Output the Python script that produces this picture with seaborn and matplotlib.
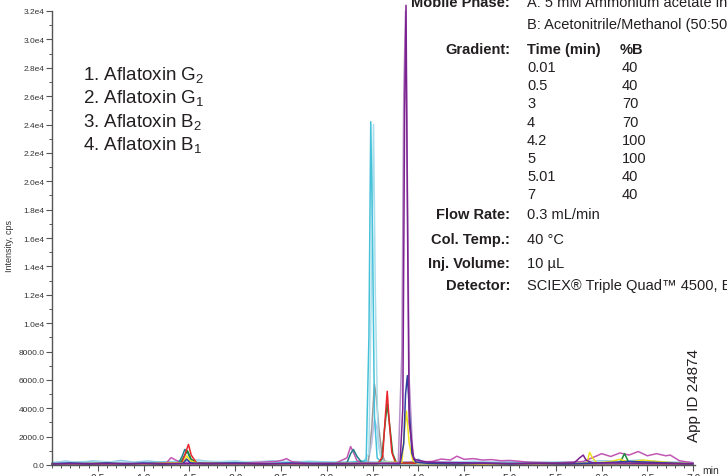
import numpy as np
import pandas as pd
import matplotlib
matplotlib.use("Agg")
import matplotlib.pyplot as plt
from matplotlib.ticker import MultipleLocator
import seaborn as sns

# ---------------- data ----------------
lightblue_t = [0.0, 0.15, 0.3, 0.45, 0.6, 0.75, 0.9, 1.05, 1.2, 1.4, 1.6, 1.75, 2.0, 2.2, 2.4, 2.6, 2.8, 3.1, 3.4, 3.6, 3.8,
               3.95, 4.0, 4.05, 4.3, 4.6, 4.8, 5.1, 5.3, 5.6, 5.8, 6.0, 6.2, 6.4, 6.6, 6.8, 7.0]
lightblue_y = [150, 280, 160, 300, 180, 320, 200, 290, 170, 260, 350, 200, 280, 170, 300, 190, 260, 200, 220, 200, 180,
               250, 420, 220, 180, 260, 200, 240, 160, 230, 220, 300, 260, 340, 250, 200, 180]

lavender_t = [0.0, 1.0, 2.0, 3.0, 3.45, 3.49, 3.52, 3.55, 3.58, 3.62, 3.8, 5.0, 6.0, 7.0]
lavender_y = [100, 120, 110, 130, 150, 1500, 3200, 2500, 900, 200, 120, 110, 150, 100]

grey_t = [0.0, 1.0, 2.0, 3.0, 3.45, 3.49, 3.52, 3.54, 3.57, 3.6, 3.63, 3.7, 4.5, 5.5, 7.0]
grey_y = [80, 90, 80, 90, 120, 2500, 5700, 4800, 2500, 900, 300, 120, 90, 80, 90]

lightcyan_t = [0.0, 0.5, 1.0, 1.5, 2.0, 2.5, 3.0, 3.4, 3.46, 3.49, 3.51, 3.53, 3.56, 3.6, 4.0, 5.0, 6.0, 7.0]
lightcyan_y = [180, 260, 150, 300, 220, 270, 200, 250, 800, 14000, 24000, 12000, 1500, 250, 200, 180, 230, 160]

cyan_t = [0.0, 0.4, 0.8, 1.2, 1.6, 2.0, 2.4, 2.8, 3.2, 3.43, 3.46, 3.48, 3.5, 3.52, 3.55, 3.6, 4.0, 4.5, 5.0, 5.5, 6.0, 6.5, 7.0]
cyan_y = [120, 180, 100, 200, 130, 170, 120, 190, 140, 300, 9000, 24200, 16000, 3500, 500, 180, 150, 120, 130, 110, 150, 120, 100]

magenta_t = [0.0, 0.5, 1.0, 1.25, 1.3, 1.35, 1.4, 1.6, 2.0, 2.45, 2.52, 2.56, 2.62, 2.8, 3.1, 3.22, 3.26, 3.29, 3.33, 3.4, 3.7,
             4.15, 4.25, 4.35, 4.42, 4.5, 4.6, 4.7, 4.8, 4.9, 5.0, 5.2, 5.5, 5.8, 5.95, 6.0, 6.1, 6.2, 6.3, 6.4, 6.5, 6.6, 6.7, 6.75, 6.85, 7.0]
magenta_y = [100, 120, 100, 150, 520, 350, 200, 120, 110, 250, 350, 450, 230, 130, 140, 500, 1300, 900, 300, 150, 150,
             250, 420, 350, 620, 400, 450, 350, 380, 300, 320, 200, 150, 250, 650, 800, 600, 850, 700, 950, 650, 800, 650, 700, 300, 150]

teal_t = [0.0, 1.0, 1.38, 1.42, 1.45, 1.48, 1.52, 1.58, 2.0, 3.0, 3.22, 3.26, 3.29, 3.33, 3.38, 3.45, 4.0, 5.0, 6.0, 7.0]
teal_y = [90, 100, 120, 600, 1100, 900, 300, 120, 90, 100, 150, 800, 1100, 600, 200, 110, 100, 90, 100, 90]

green_t = [0.0, 1.0, 1.4, 1.45, 1.48, 1.52, 1.6, 2.5, 3.55, 3.6, 3.63, 3.66, 3.69, 3.72, 3.76, 4.5, 5.5, 6.2, 6.25, 6.3, 7.0]
green_y = [80, 90, 120, 700, 1000, 400, 100, 90, 100, 400, 2500, 4300, 2600, 800, 150, 90, 100, 120, 800, 150, 90]

red_t = [0.0, 1.0, 1.42, 1.46, 1.49, 1.52, 1.58, 2.5, 3.56, 3.61, 3.64, 3.66, 3.68, 3.71, 3.75, 4.5, 6.0, 7.0]
red_y = [70, 80, 150, 900, 1450, 700, 120, 80, 100, 600, 3500, 5200, 3200, 900, 150, 80, 100, 80]

yellow_t = [0.0, 0.5, 1.0, 1.43, 1.47, 1.51, 1.6, 2.0, 3.0, 3.82, 3.85, 3.87, 3.9, 3.94, 4.0, 5.0, 5.84, 5.87, 5.9, 5.95,
            6.1, 6.2, 6.3, 6.45, 6.6, 6.8, 7.0]
yellow_y = [60, 110, 70, 150, 650, 300, 90, 60, 80, 200, 2500, 3800, 1500, 300, 100, 70, 150, 900, 500, 150,
            250, 400, 200, 350, 250, 150, 80]

lightpurple_t = [0.0, 1.0, 2.0, 3.0, 3.78, 3.82, 3.84, 3.86, 3.88, 3.9, 3.94, 4.0, 5.0, 6.0, 7.0]
lightpurple_y = [90, 100, 90, 100, 150, 8000, 26000, 32000, 20000, 6000, 600, 150, 100, 120, 100]

darkblue_t = [0.0, 0.2, 0.4, 0.6, 0.8, 1.0, 1.2, 1.43, 1.47, 1.51, 1.7, 2.0, 2.3, 2.6, 3.0, 3.4, 3.8, 3.84, 3.86, 3.88, 3.9,
              3.93, 3.97, 4.1, 4.4, 4.7, 5.0, 5.3, 5.6, 6.0, 6.3, 6.6, 7.0]
darkblue_y = [60, 140, 70, 150, 60, 130, 70, 120, 420, 150, 90, 140, 70, 130, 60, 110, 80, 1500, 5000, 6300, 4000,
              800, 200, 120, 70, 130, 70, 120, 80, 150, 250, 180, 70]

purple_t = [0.0, 1.0, 2.0, 3.0, 3.8, 3.83, 3.85, 3.865, 3.88, 3.9, 3.95, 4.1, 5.0, 5.7, 5.76, 5.8, 5.83, 5.9, 6.5, 7.0]
purple_y = [80, 90, 80, 90, 120, 4000, 25000, 32400, 18000, 3000, 400, 200, 100, 150, 500, 700, 350, 150, 120, 90]

# legend / annotation text
compounds = ["1. Aflatoxin G$_2$", "2. Aflatoxin G$_1$", "3. Aflatoxin B$_2$", "4. Aflatoxin B$_1$"]
grad_time = ["0.01", "0.5", "3", "4", "4.2", "5", "5.01", "7"]
grad_b = ["40", "40", "70", "70", "100", "100", "40", "40"]
x_ticks = [0.5, 1.0, 1.5, 2.0, 2.5, 3.0, 3.5, 4.0, 4.5, 5.0, 5.5, 6.0, 6.5, 7.0]
y_ticks = [0, 2000, 4000, 6000, 8000, 10000, 12000, 14000, 16000, 18000, 20000, 22000, 24000, 26000, 28000, 30000, 32000]

traces = {
    "lightblue": (lightblue_t, lightblue_y, "#93C6EA"),
    "lavender": (lavender_t, lavender_y, "#B9C0EC"),
    "grey": (grey_t, grey_y, "#9B9B9B"),
    "lightcyan": (lightcyan_t, lightcyan_y, "#A9DFEC"),
    "cyan": (cyan_t, cyan_y, "#45C1D9"),
    "magenta": (magenta_t, magenta_y, "#C257B4"),
    "teal": (teal_t, teal_y, "#1F7E88"),
    "green": (green_t, green_y, "#1A8A3A"),
    "red": (red_t, red_y, "#E8262B"),
    "yellow": (yellow_t, yellow_y, "#EDE21F"),
    "lightpurple": (lightpurple_t, lightpurple_y, "#B88FC8"),
    "darkblue": (darkblue_t, darkblue_y, "#2F3F9F"),
    "purple": (purple_t, purple_y, "#7C2190"),
}

rows = []
for name, (t, y, c) in traces.items():
    for ti, yi in zip(t, y):
        rows.append({"trace": name, "t": ti, "y": yi})
df = pd.DataFrame(rows)
palette = {k: v[2] for k, v in traces.items()}
order = list(traces.keys())

# ---------------- plot ----------------
sns.set_style("ticks")
plt.rcParams["font.family"] = ["Liberation Sans", "DejaVu Sans"]
plt.rcParams["mathtext.fontset"] = "custom"
plt.rcParams["mathtext.rm"] = "Liberation Sans"
plt.rcParams["mathtext.it"] = "Liberation Sans"

W, H = 727, 477
fig = plt.figure(figsize=(W / 100, H / 100), dpi=100)
x0, y0, x1, y1 = 52, 466, 695, 12
ax = fig.add_axes([x0 / W, 1 - y0 / H, (x1 - x0) / W, (y0 - y1) / H])

sns.lineplot(data=df, x="t", y="y", hue="trace", hue_order=order, palette=palette,
             estimator=None, sort=True, legend=False, linewidth=1.1, ax=ax)
for ln in ax.get_lines():
    ln.set_clip_on(False)

ax.set_xlim(0, 7.02)
ax.set_ylim(0, 32000)
sns.despine(ax=ax)
for s in ["left", "bottom"]:
    ax.spines[s].set_color("#555555")
    ax.spines[s].set_linewidth(1.0)

ax.set_xticks(x_ticks)
ax.set_xticklabels([f"{v:.1f}" for v in x_ticks], fontsize=7.5, color="#333333")
ax.xaxis.set_minor_locator(MultipleLocator(0.1))
ax.set_yticks(y_ticks)
ax.set_yticklabels([f"{v:.1f}" if v < 10000 else f"{v / 1e4:.1f}e4" for v in y_ticks],
                   fontsize=6, color="#333333")
ax.yaxis.set_minor_locator(MultipleLocator(1000))
ax.tick_params(axis="both", which="major", length=4, width=0.8, color="#555555", pad=1.5)
ax.tick_params(axis="both", which="minor", length=2.5, width=0.7, color="#555555")
ax.set_xlabel("")
ax.set_ylabel("Intensity, cps", fontsize=6.5, color="#333333")
ax.yaxis.set_label_coords(-38 / (x1 - x0), 0.485)
ax.text(7.1, 0, "min", transform=ax.transData, fontsize=7.5, color="#333333",
        va="top", ha="left")

def ft(x, y, s, **kw):
    fig.text(x / W, 1 - y / H, s, **kw)

# compound list
for i, s in enumerate(compounds):
    ft(83, 75 + i * 23.3, s, fontsize=13.5, color="#231F20", va="center", ha="left")

# method conditions
lab = dict(fontsize=10.5, color="#231F20", va="center", ha="right", fontweight="bold")
val = dict(fontsize=10.5, color="#231F20", va="center", ha="left")
ft(510, 3, "Mobile Phase:", **lab)
ft(527, 3, "A: 5 mM Ammonium acetate in", **val)
ft(527, 25, "B: Acetonitrile/Methanol (50:50)", **val)
ft(510, 50, "Gradient:", **lab)
ft(527, 50, "Time (min)", **{**val, "fontweight": "bold"})
ft(620, 50, "%B", **{**val, "fontweight": "bold"})
for i, (tm, b) in enumerate(zip(grad_time, grad_b)):
    yy = 68 + i * 18.2
    ft(527, yy, tm, **val)
    ft(622, yy, b, **val)
ft(510, 215, "Flow Rate:", **lab)
ft(527, 215, "0.3 mL/min", **val)
ft(510, 240, "Col. Temp.:", **lab)
ft(527, 240, "40 °C", **val)
ft(510, 264, "Inj. Volume:", **lab)
ft(527, 264, "10 µL", **val)
ft(510, 286, "Detector:", **lab)
ft(527, 286, "SCIEX® Triple Quad™ 4500, ESI+", **val)

ft(694, 396, "App ID 24874", fontsize=11, color="#231F20", rotation=90, va="center", ha="center")

fig.savefig("out.png", dpi=100)
